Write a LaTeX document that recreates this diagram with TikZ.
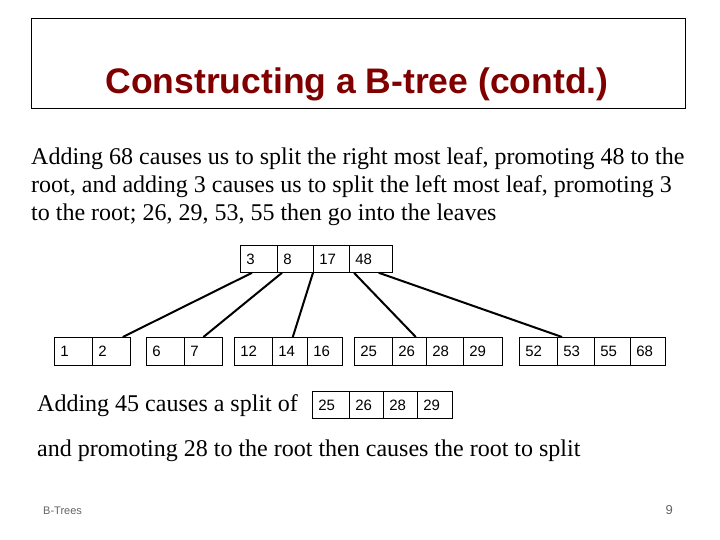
\documentclass[tikz,border=0pt]{standalone}
\usepackage{fontspec}
\setmainfont{Liberation Serif}
\newfontfamily\arialfont{Liberation Sans}
\definecolor{titlered}{RGB}{128,0,0}
\definecolor{footgray}{RGB}{100,100,100}
\begin{document}
\begin{tikzpicture}[x=1pt,y=-1pt,
  cell/.style={draw, line width=0.8pt, anchor=north west, inner xsep=6pt, inner ysep=0pt,
    align=left, font=\arialfont\fontsize{15}{15}\selectfont},
  link/.style={line width=2pt},
  bodytext/.style={anchor=base west, inner sep=0pt, font=\fontsize{24}{28}\selectfont},
  foot/.style={inner sep=0pt, text=footgray, font=\arialfont\fontsize{11}{11}\selectfont}]
\useasboundingbox (0,0) rectangle (720,540);
% title
\node[draw, line width=0.8pt, anchor=north west, minimum width=654pt, minimum height=90pt, inner sep=0pt] (tbox) at (31,18) {};
\node[anchor=base, inner sep=0pt, text=titlered, font=\arialfont\bfseries\fontsize{35.5}{35.5}\selectfont] (title) at (357,94) {Constructing a B-tree (contd.)};
% paragraph
\node[bodytext] (p1) at (31,165) {Adding 68 causes us to split the right most leaf, promoting 48 to the};
\node[bodytext] (p2) at (31,193) {root, and adding 3 causes us to split the left most leaf, promoting 3};
\node[bodytext] (p3) at (31,221) {to the root; 26, 29, 53, 55 then go into the leaves};
% root
\foreach \x/\w/\t [count=\i] in {240/25/3, 277/24/8, 313/24/17, 349/31/48}
  \node[cell, text width=\w pt, minimum height=27pt] (r\i) at (\x,245) {\t};
% leaves
\foreach \x/\w/\t [count=\i] in {54/26/1, 92/26/2}
  \node[cell, text width=\w pt, minimum height=28pt] (a\i) at (\x,337) {\t};
\foreach \x/\w/\t [count=\i] in {146/26/6, 184/26/7}
  \node[cell, text width=\w pt, minimum height=28pt] (b\i) at (\x,337) {\t};
\foreach \x/\w/\t [count=\i] in {234/26/12, 272/23/14, 307/23/16}
  \node[cell, text width=\w pt, minimum height=28pt] (c\i) at (\x,337) {\t};
\foreach \x/\w/\t [count=\i] in {354/26/25, 392/22/26, 426/25/28, 463/27/29}
  \node[cell, text width=\w pt, minimum height=28pt] (d\i) at (\x,337) {\t};
\foreach \x/\w/\t [count=\i] in {519/26/52, 557/25/53, 594/24/55, 630/23/68}
  \node[cell, text width=\w pt, minimum height=28pt] (e\i) at (\x,337) {\t};
% split node
\foreach \x/\w/\t [count=\i] in {312/25/25, 349/22/26, 383/22/28, 417/23/29}
  \node[cell, text width=\w pt, minimum height=27pt] (s\i) at (\x,391) {\t};
% connectors
\draw[link] ([xshift=12pt]r1.south west) -- ([xshift=-8pt]a2.north east);
\draw[link] ([xshift=5pt]r2.south west) -- (b2.north);
\draw[link] (r3.south west) -- ([xshift=-15pt]c2.north east);
\draw[link] ([xshift=5pt]r4.south west) -- ([xshift=-11pt]d2.north east);
\draw[link] ([xshift=-14pt]r4.south east) -- ([xshift=5pt]e2.north west);
% lower text
\node[bodytext] (q1) at (37,411) {Adding 45 causes a split of};
\node[bodytext] (q2) at (37,456) {and promoting 28 to the root then causes the root to split};
% footer
\node[foot, anchor=west] (ft) at (43,511) {B-Trees};
\node[foot, anchor=east, font=\arialfont\fontsize{13}{13}\selectfont] (pg) at (673,510) {9};
\end{tikzpicture}
\end{document}
